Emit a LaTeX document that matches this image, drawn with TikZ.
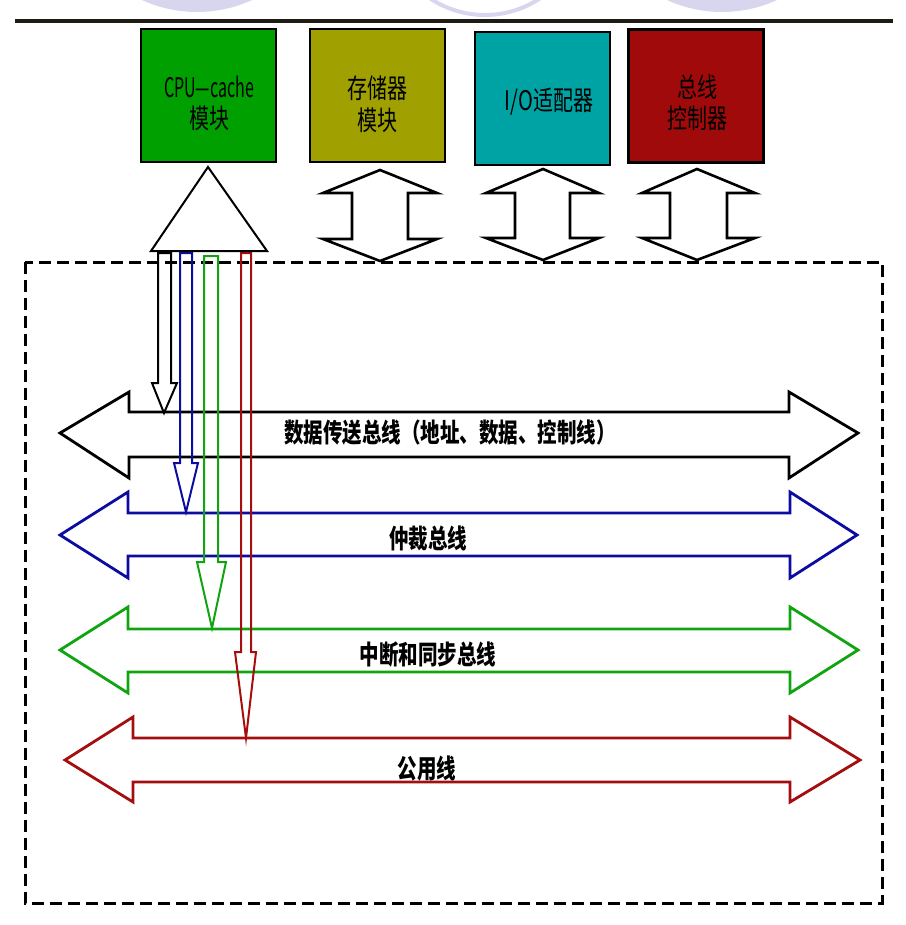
\documentclass[tikz,border=0pt]{standalone}
\usepackage{fontspec}
\usepackage{graphicx}
\newfontfamily\cjk{Noto Sans CJK SC}
\definecolor{wm}{RGB}{216,214,238}
\definecolor{cpugreen}{RGB}{0,160,0}
\definecolor{olive}{RGB}{160,160,0}
\definecolor{teal}{RGB}{0,163,163}
\definecolor{darkred}{RGB}{160,10,10}
\definecolor{lblue}{RGB}{12,12,160}
\definecolor{lgreen}{RGB}{16,165,16}
\definecolor{lred}{RGB}{165,14,14}
\definecolor{topline}{RGB}{30,26,20}
\newcommand{\tall}[2][1]{\scalebox{#1}[1.35]{#2}}
\tikzset{
  modbox/.style={draw=black, line width=2.5pt, minimum width=135pt, minimum height=133pt, inner sep=0pt},
  boxtext/.style={font=\cjk\fontsize{20}{20}\selectfont, inner sep=0pt},
  buslabel/.style={font=\cjk\bfseries\fontsize{19.5}{19.5}\selectfont, inner sep=0pt},
  busarrow/.style={line width=2.8pt, line join=miter},
  vertarrow/.style={line width=2pt, line join=miter},
  bidir/.style={draw=black, line width=2.6pt, fill=white, line join=miter},
}
\begin{document}
\begin{tikzpicture}[x=1pt,y=-1pt]
\useasboundingbox (0,0) rectangle (905,925);
% faint marks at the top
\begin{scope}
  \clip (0,0) rectangle (905,19);
  \fill[wm] (197,-120) circle (132);
  \draw[wm, line width=4pt] (485,-84) circle (99);
  \fill[wm] (722,-120) circle (132);
\end{scope}
% top rule
\coordinate (tl) at (15,21);
\coordinate (tr) at (893,21);
\draw[topline, line width=3.5pt] (tl) -- (tr);
% dashed frame
\draw[black, line width=3pt, dash pattern=on 12pt off 6pt] (25,262) rectangle (882,903);
% horizontal bus arrows
\draw[busarrow, black] (60,433) -- (129,392) -- (129,412) -- (789,412) -- (789,392) -- (858,433) -- (789,478) -- (789,457) -- (129,457) -- (129,478) -- cycle;
\draw[busarrow, lblue] (60,535) -- (128,492) -- (128,513) -- (790,513) -- (790,492) -- (857,535) -- (790,578) -- (790,556) -- (128,556) -- (128,578) -- cycle;
\draw[busarrow, lgreen] (60,650) -- (128,607) -- (128,629) -- (790,629) -- (790,607) -- (858,650) -- (790,693) -- (790,672) -- (128,672) -- (128,693) -- cycle;
\draw[busarrow, lred] (65,760) -- (133,717) -- (133,738) -- (790,738) -- (790,717) -- (860,760) -- (790,802) -- (790,782) -- (133,782) -- (133,802) -- cycle;
% bus labels
\node[buslabel] (l1) at (450,433) {\tall{数据传送总线（地址、数据、控制线）}};
\node[buslabel] (l2) at (428,538) {\tall{仲裁总线}};
\node[buslabel] (l3) at (428,655) {\tall{中断和同步总线}};
\node[buslabel] (l4) at (427,768) {\tall{公用线}};
% vertical arrows from the CPU triangle
\draw[vertarrow, black] (158,253) -- (171,253) -- (171,383) -- (177,383) -- (164,413) -- (152,383) -- (158,383) -- cycle;
\draw[vertarrow, lblue] (180,253) -- (192,253) -- (192,463) -- (198,463) -- (186,512) -- (174,463) -- (180,463) -- cycle;
\draw[vertarrow, lgreen] (204,256) -- (218,256) -- (218,562) -- (226,562) -- (212,628) -- (197,562) -- (204,562) -- cycle;
\draw[vertarrow, lred] (241,253) -- (251,253) -- (251,652) -- (256,652) -- (246,738) -- (235,652) -- (241,652) -- cycle;
% triangle
\draw[black, line width=2pt, line join=miter, fill=white] (208,167) -- (267,251) -- (151,251) -- cycle;
% bidirectional vertical arrows
\draw[bidir] (380,170) -- (437,193) -- (408,193) -- (408,239) -- (437,239) -- (380,261) -- (323,239) -- (352,239) -- (352,193) -- (323,193) -- cycle;
\draw[bidir] (543,169) -- (599,193) -- (570,193) -- (570,238) -- (599,238) -- (543,260) -- (486,238) -- (515,238) -- (515,193) -- (486,193) -- cycle;
\draw[bidir] (697,169) -- (755,193) -- (727,193) -- (727,238) -- (755,238) -- (697,260) -- (642,238) -- (670,238) -- (670,193) -- (642,193) -- cycle;
% module boxes
\node[modbox, fill=cpugreen] (cpu) at (208.5,95.5) {};
\node[modbox, fill=olive] (mem) at (377.5,95.5) {};
\node[modbox, fill=teal] (io) at (542.5,98.5) {};
\node[modbox, fill=darkred] (ctl) at (696,96) {};
\node[boxtext] (cpu1) at (209,87) {\tall[0.8]{CPU—cache}};
\node[boxtext] (cpu2) at (209,118) {\tall{模块}};
\node[boxtext] (mem1) at (377,88) {\tall{存储器}};
\node[boxtext] (mem2) at (377,120) {\tall{模块}};
\node[boxtext] (io1) at (549,102) {\tall{I/O适配器}};
\node[boxtext] (ctl1) at (697,87) {\tall{总线}};
\node[boxtext] (ctl2) at (697,118) {\tall{控制器}};
\end{tikzpicture}
\end{document}
